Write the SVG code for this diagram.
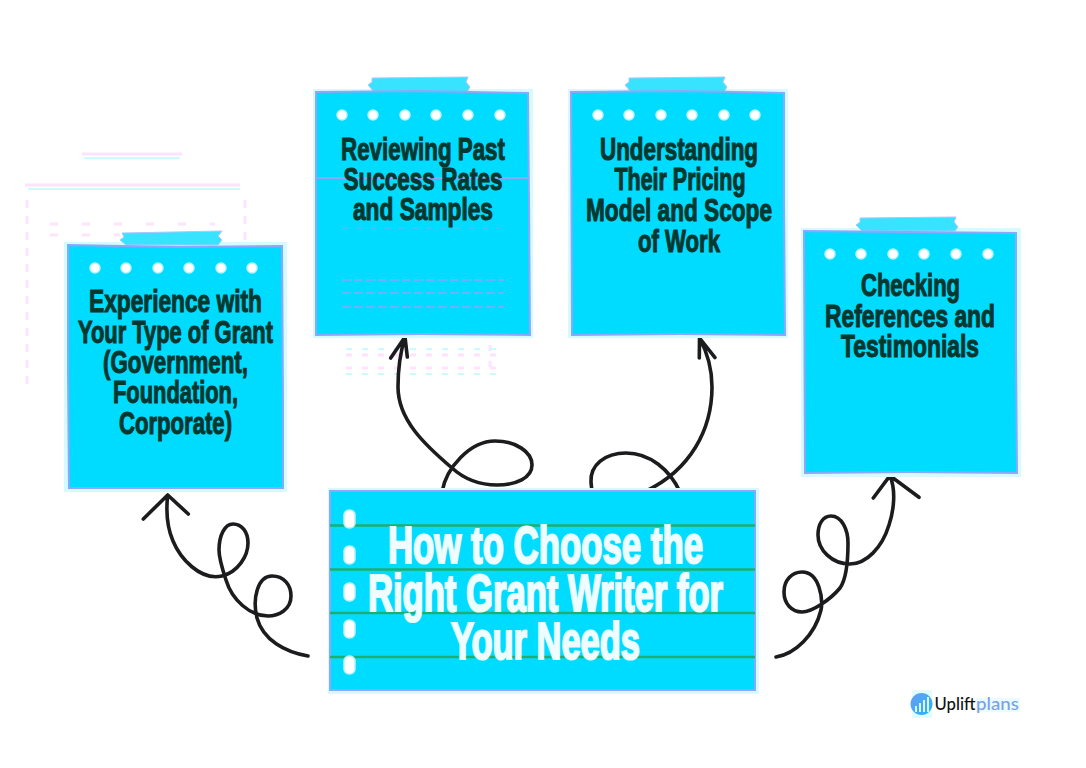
<svg xmlns="http://www.w3.org/2000/svg" width="1086" height="768" viewBox="0 0 1086 768">
<defs>
<linearGradient id="logoGrad" x1="0" y1="0" x2="1" y2="1"><stop offset="0" stop-color="#6d9cf2"/><stop offset="1" stop-color="#1fb8f2"/></linearGradient>
</defs>
<style>
.paper{fill:#00dcff;stroke:#8fa6fb;stroke-width:2}
.halo{fill:#d6fbff}
.tape{fill:#38e3ff;stroke:#a9c8ff;stroke-width:1}
.dot{fill:#fff;stroke:#b5f4ff;stroke-width:1.5}
.t{font-family:"Liberation Sans",Arial,sans-serif;font-weight:700;text-anchor:middle}
.note{font-size:31px;fill:#06372f;stroke:#06372f;stroke-width:1.1;paint-order:stroke}
.title{font-size:51px;fill:#effdff;stroke:#e2fbff;stroke-width:2.2;paint-order:stroke}
.curl{fill:none;stroke:#1c1c1e;stroke-width:3.6;stroke-linecap:round;stroke-linejoin:round}
.rule{stroke:#1cae72;stroke-width:2.4}
.gp{fill:none;stroke:#fde3fb;stroke-width:3}
.gc{fill:none;stroke:#c9fbff;stroke-width:2}
.gv{fill:none;stroke:#8fa6fb;stroke-width:2}
</style>
<rect width="1086" height="768" fill="#fff"/>
<g id="artifacts">
<path class="gp" d="M82 154H182M25 185H240"/>
<path class="gc" d="M84 158H180M28 189H240"/>
<path class="gp" stroke-dasharray="8 8" d="M27 200V385M245 200V240"/>
<path class="gp" stroke-dasharray="8 24" d="M50 224H215M50 235H120"/>
<path class="gp" stroke-width="9" stroke-dasharray="6 10" d="M346 355H503M346 368H503M490 345V375"/>
<path class="gc" stroke-dasharray="6 10" d="M346 349H503M346 374H503"/>
</g>
<g id="connectors">
<path class="curl" d="M308 656C285 652 263 640 257 618C252 598 258 576 272 576C284 576 291 585 291 596C291 610 278 616 268 616C250 616 232 600 226 580C221 565 219 557 219 550C219 535 225 524 233 524C242 524 248 532 248 543C248 556 238 572 222 576C200 581 180 558 173 541C167 527 166 510 167.700 495M143.300 519L167.700 495L188.300 514"/>
<path class="curl" d="M442 492C446 468 470 441 495 441C516 441 532 452 532 465C532 478 516 485 497 485C476 485 462 477 452 468C425 445 398 420 398 387C398 368 401 350 405 337M390.700 358L405 337L407.300 357"/>
<path class="curl" d="M680 492C670 470 650 453 626 453C605 453 590 465 591 482L592 492M646 491C690 470 712 430 712 387C712 365 706 350 699.500 338M699.300 358L699.500 338L715 357.700"/>
<path class="curl" d="M776 657C795 654 815 635 821 610C823 600 820 572 802 572C792 572 784 580 784 592C784 604 792 612 802 612C812 612 830 600 840 588C847 578 848 560 848 543C848 530 842 516 831 516C823 516 818 524 818 535C818 550 832 564 850 564C866 564 882 548 889 525C894 510 896 490 890 476M873.300 498L890 475.700L919 497.300"/>
</g>
<g id="note-experience">
<rect class="halo" x="64" y="242" width="223" height="250"/>
<path class="tape" d="M122 233L222 231L218 236L222 240L218 245L126 245L120 240L124 237Z"/>
<path class="paper" d="M68 245L180 247L282 246L283 400L283 488L180 488L69 488L68 370Z"/>
<g class="dots"><circle class="dot" cx="95" cy="268" r="5"/><circle class="dot" cx="126" cy="268" r="5"/><circle class="dot" cx="158" cy="268" r="5"/><circle class="dot" cx="189" cy="268" r="5"/><circle class="dot" cx="221" cy="268" r="5"/><circle class="dot" cx="252" cy="268" r="5"/></g>
<text class="t note" x="175.500" y="312" textLength="173" lengthAdjust="spacingAndGlyphs">Experience with</text>
<text class="t note" x="175.500" y="343" textLength="195" lengthAdjust="spacingAndGlyphs">Your Type of Grant</text>
<text class="t note" x="175.500" y="373" textLength="145" lengthAdjust="spacingAndGlyphs">(Government,</text>
<text class="t note" x="175.500" y="403" textLength="125" lengthAdjust="spacingAndGlyphs">Foundation,</text>
<text class="t note" x="175.500" y="434" textLength="113" lengthAdjust="spacingAndGlyphs">Corporate)</text>
</g>
<g id="note-reviewing">
<rect class="halo" x="313" y="89" width="220" height="249"/>
<path class="tape" d="M372 78L468 77L466 82L470 87L467 92L374 92L368 85L372 82Z"/>
<path class="paper" d="M316 92L420 91L528 93L529 200L530 335L420 334L316 335Z"/>
<path class="gv" d="M316 178H529"/>
<path class="gv" stroke-width="10" stroke-dasharray="7 7" d="M342 228H500" opacity=".35"/>
<path class="gv" stroke-width="7" stroke-dasharray="9 3" d="M342 280H504M342 293H504M342 307H504" opacity=".75"/>
<g class="dots"><circle class="dot" cx="342" cy="115" r="5"/><circle class="dot" cx="373" cy="115" r="5"/><circle class="dot" cx="405" cy="115" r="5"/><circle class="dot" cx="436" cy="115" r="5"/><circle class="dot" cx="468" cy="115" r="5"/><circle class="dot" cx="500" cy="115" r="5"/></g>
<text class="t note" x="423" y="160" textLength="164" lengthAdjust="spacingAndGlyphs">Reviewing Past</text>
<text class="t note" x="423" y="190" textLength="159" lengthAdjust="spacingAndGlyphs">Success Rates</text>
<text class="t note" x="423" y="220" textLength="140" lengthAdjust="spacingAndGlyphs">and Samples</text>
</g>
<g id="note-pricing">
<rect class="halo" x="568" y="89" width="220" height="249"/>
<path class="tape" d="M629 78L725 77L723 82L727 87L724 92L631 92L625 85L629 82Z"/>
<path class="paper" d="M571 92L680 91L784 93L784 200L785 335L680 334L572 335Z"/>
<g class="dots"><circle class="dot" cx="598" cy="115" r="5"/><circle class="dot" cx="629" cy="115" r="5"/><circle class="dot" cx="661" cy="115" r="5"/><circle class="dot" cx="692" cy="115" r="5"/><circle class="dot" cx="724" cy="115" r="5"/><circle class="dot" cx="755" cy="115" r="5"/></g>
<text class="t note" x="679" y="160" textLength="158" lengthAdjust="spacingAndGlyphs">Understanding</text>
<text class="t note" x="680" y="190" textLength="131" lengthAdjust="spacingAndGlyphs">Their Pricing</text>
<text class="t note" x="679" y="221" textLength="186" lengthAdjust="spacingAndGlyphs">Model and Scope</text>
<text class="t note" x="679" y="252" textLength="82" lengthAdjust="spacingAndGlyphs">of Work</text>
</g>
<g id="note-references">
<rect class="halo" x="801" y="228" width="220" height="249"/>
<path class="tape" d="M860 218L956 217L954 222L958 227L955 231L862 231L856 225L860 222Z"/>
<path class="paper" d="M804 231L910 232L1016 233L1016 350L1017 473L910 472L805 473Z"/>
<g class="dots"><circle class="dot" cx="830" cy="254" r="5"/><circle class="dot" cx="861" cy="254" r="5"/><circle class="dot" cx="893" cy="254" r="5"/><circle class="dot" cx="924" cy="254" r="5"/><circle class="dot" cx="956" cy="254" r="5"/><circle class="dot" cx="988" cy="254" r="5"/></g>
<text class="t note" x="910.500" y="296" textLength="99" lengthAdjust="spacingAndGlyphs">Checking</text>
<text class="t note" x="910" y="327" textLength="170" lengthAdjust="spacingAndGlyphs">References and</text>
<text class="t note" x="910" y="357" textLength="138" lengthAdjust="spacingAndGlyphs">Testimonials</text>
</g>
<g id="main-title">
<rect class="halo" x="328" y="488" width="431" height="206"/>
<rect class="paper" x="330" y="491" width="425" height="199"/>
<path class="rule" d="M330 525.500H755M330 569.500H755M330 613H755M330 657H755"/>
<rect class="dot" x="344" y="510" width="11" height="18" rx="5"/>
<rect class="dot" x="344" y="546" width="11" height="18" rx="5"/>
<rect class="dot" x="344" y="583" width="11" height="18" rx="5"/>
<rect class="dot" x="344" y="620" width="11" height="18" rx="5"/>
<rect class="dot" x="344" y="656" width="11" height="18" rx="5"/>
<text class="t title" x="545.500" y="563" textLength="315" lengthAdjust="spacingAndGlyphs">How to Choose the</text>
<text class="t title" x="545.500" y="611" textLength="355" lengthAdjust="spacingAndGlyphs">Right Grant Writer for</text>
<text class="t title" x="545.500" y="659" textLength="189" lengthAdjust="spacingAndGlyphs">Your Needs</text>
</g>
<g id="logo">
<rect x="912" y="690" width="20" height="28" fill="#e2fbff"/>
<rect x="976" y="698" width="44" height="14" fill="#e9fcff"/>
<circle cx="921.500" cy="704" r="11" fill="url(#logoGrad)"/>
<path d="M915 712V706h2V712ZM919 712V703h2V712ZM923 712V700h2V712ZM927 712V697h2V712Z" fill="#d9f6ff"/>
<text x="934.500" y="710" font-family="Lato,'Open Sans',sans-serif" font-size="18" font-weight="500" fill="#111" textLength="41" lengthAdjust="spacingAndGlyphs">Uplift</text>
<text x="976" y="710" font-family="Lato,'Open Sans',sans-serif" font-size="18" font-weight="500" fill="#7d9fe6" textLength="43" lengthAdjust="spacingAndGlyphs">plans</text>
</g>
</svg>
